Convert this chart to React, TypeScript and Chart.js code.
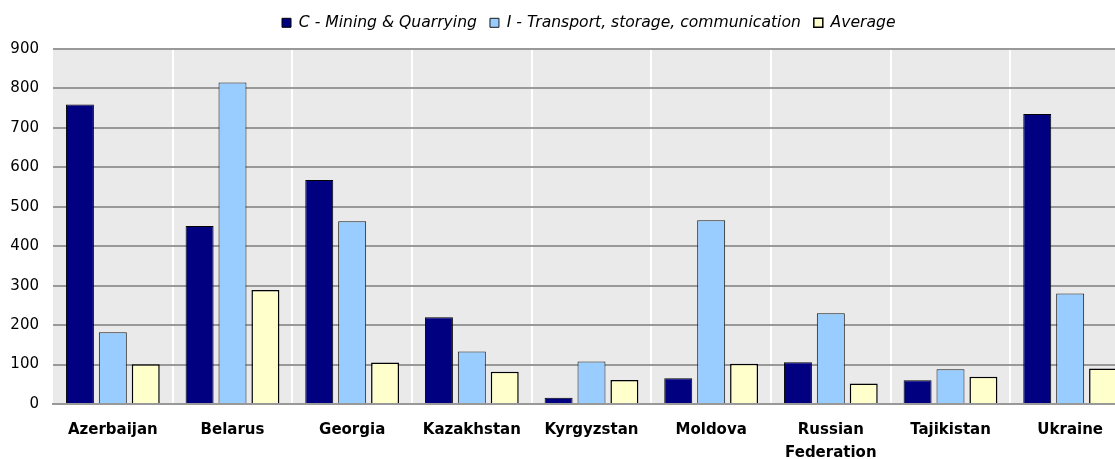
import React, { useEffect, useRef } from "react";
import { Chart, registerables } from "chart.js";

Chart.register(...registerables);

const categories: (string | string[])[] = [
  "Azerbaijan",
  "Belarus",
  "Georgia",
  "Kazakhstan",
  "Kyrgyzstan",
  "Moldova",
  ["Russian", "Federation"],
  "Tajikistan",
  "Ukraine",
];

const miningValues = [759, 451, 568, 220, 16, 65, 106, 60, 735];
const transportValues = [182, 815, 463, 133, 108, 466, 230, 88, 280];
const averageValues = [101, 289, 105, 82, 61, 102, 52, 69, 90];

const seriesNames = [
  "C - Mining & Quarrying",
  "I - Transport, storage, communication",
  "Average",
];

const yTicks = { min: 0, max: 900, step: 100 };

const FONT = "'DejaVu Sans', 'Liberation Sans', Arial, sans-serif";
const LEGEND_PAD = 13;
const LEGEND_START_X = 282;

const plotBackground = {
  id: "plotBackground",
  beforeDraw(chart: any) {
    const { ctx, chartArea } = chart;
    if (!chartArea) return;
    ctx.save();
    ctx.fillStyle = "#eaeaea";
    ctx.fillRect(
      chartArea.left,
      chartArea.top,
      chartArea.right - chartArea.left,
      chartArea.bottom - chartArea.top
    );
    ctx.restore();
  },
};

const legendPlacement = {
  id: "legendPlacement",
  beforeInit(chart: any) {
    const legend = chart.legend;
    if (legend) {
      const origFit = legend.fit;
      legend.fit = function () {
        origFit.call(this);
        this.height = 47;
      };
    }
  },
  afterLayout(chart: any) {
    const legend = chart.legend;
    if (!legend || !legend.lineWidths) return;
    const w = legend.lineWidths[0] - LEGEND_PAD;
    const start = (legend.left + legend.right - w) / 2;
    const delta = LEGEND_START_X - start;
    legend.left += delta;
    legend.right += delta;
  },
};

export default function App() {
  const canvasRef = useRef<HTMLCanvasElement | null>(null);

  useEffect(() => {
    document.body.style.overflow = "hidden";
    const canvas = canvasRef.current;
    if (!canvas) return;
    const chart = new Chart(canvas, {
      type: "bar",
      data: {
        labels: categories,
        datasets: [
          {
            label: seriesNames[0],
            data: miningValues,
            backgroundColor: "#000080",
            borderColor: "#000000",
            borderWidth: 1,
          },
          {
            label: seriesNames[1],
            data: transportValues,
            backgroundColor: "#99ccff",
            borderColor: "#1a1a1a",
            borderWidth: 1,
          },
          {
            label: seriesNames[2],
            data: averageValues,
            backgroundColor: "#ffffcc",
            borderColor: "#000000",
            borderWidth: 1.5,
          },
        ],
      },
      options: {
        animation: false,
        responsive: false,
        maintainAspectRatio: false,
        devicePixelRatio: 1,
        categoryPercentage: 0.825,
        barPercentage: 0.85,
        layout: { padding: { top: 2, right: 50, bottom: 0, left: 0 } },
        plugins: {
          legend: {
            display: true,
            position: "top",
            align: "center",
            labels: {
              boxWidth: 9,
              boxHeight: 9,
              padding: LEGEND_PAD,
              color: "#000",
              font: { family: FONT, size: 15.6, style: "italic" },
            },
          },
          tooltip: { enabled: false },
        },
        scales: {
          x: {
            z: 1,
            grid: {
              display: true,
              offset: true,
              drawTicks: false,
              lineWidth: 2,
              color: (ctx: any) =>
                ctx.index === 0 ? "rgba(0,0,0,0)" : "#ffffff",
            },
            border: { display: true, color: "#999999", width: 2 },
            ticks: {
              color: "#000",
              padding: 14,
              maxRotation: 0,
              autoSkip: false,
              font: { family: FONT, size: 15, weight: "bold", lineHeight: 1.55 },
            },
            afterFit(scale: any) {
              scale.height = 55;
            },
          },
          y: {
            min: yTicks.min,
            max: yTicks.max,
            grid: {
              display: true,
              drawTicks: false,
              color: "#999999",
              lineWidth: 2,
            },
            border: { display: false },
            ticks: {
              stepSize: yTicks.step,
              color: "#000",
              padding: 14,
              font: { family: FONT, size: 15 },
            },
            afterFit(scale: any) {
              scale.width = 53;
            },
          },
        },
      },
      plugins: [plotBackground, legendPlacement],
    } as any);
    return () => chart.destroy();
  }, []);

  return (
    <div
      style={{
        position: "fixed",
        left: 0,
        top: 0,
        width: 1180,
        height: 459,
        background: "#ffffff",
      }}
    >
      <canvas ref={canvasRef} width={1180} height={459} />
    </div>
  );
}
